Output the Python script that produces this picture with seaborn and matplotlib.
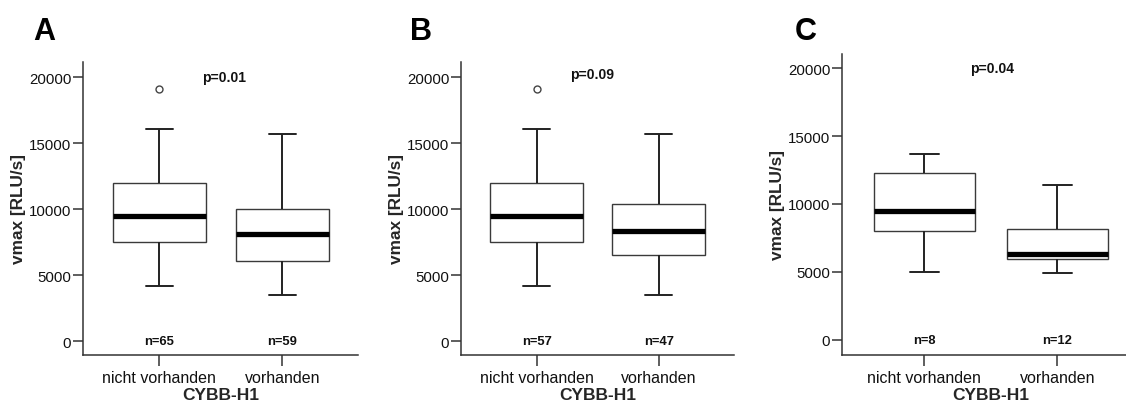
import numpy as np
import pandas as pd
import matplotlib
matplotlib.use("Agg")
import matplotlib.pyplot as plt
import seaborn as sns

# ---------------- data ----------------
categories = ["nicht vorhanden", "vorhanden"]
panel_letters = ["A", "B", "C"]
p_values = ["p=0.01", "p=0.09", "p=0.04"]
n_labels = [["n=65", "n=59"], ["n=57", "n=47"], ["n=8", "n=12"]]
y_ticks = [0, 5000, 10000, 15000, 20000]
x_label = "CYBB-H1"
y_label = "vmax [RLU/s]"

# five-number summaries: lower whisker, Q1, median, Q3, upper whisker
A_nicht = [4160, 7500, 9480, 11990, 16050]
A_vorh = [3500, 6060, 8080, 9970, 15700]
B_nicht = [4160, 7500, 9470, 11990, 16040]
B_vorh = [3500, 6510, 8300, 10370, 15700]
C_nicht = [5010, 8010, 9490, 12310, 13710]
C_vorh = [4940, 5925, 6340, 8180, 11380]
# outliers
A_nicht_out = [19080]
B_nicht_out = [19080]
no_out = []

panels = [
    (A_nicht, A_nicht_out, A_vorh, no_out),
    (B_nicht, B_nicht_out, B_vorh, no_out),
    (C_nicht, no_out, C_vorh, no_out),
]


def sample_from_summary(stats, outliers):
    lo, q1, med, q3, hi = stats
    # values whose quartiles reproduce the summary exactly
    return [lo, q1, q1, med, med, q3, q3, hi] + list(outliers)


# ---------------- style ----------------
sns.set_theme(style="ticks")
plt.rcParams["font.family"] = ["Liberation Sans", "DejaVu Sans"]
plt.rcParams["axes.edgecolor"] = "#333333"
plt.rcParams["xtick.color"] = "#333333"
plt.rcParams["ytick.color"] = "#333333"
plt.rcParams["xtick.labelcolor"] = "#111111"
plt.rcParams["ytick.labelcolor"] = "#111111"

W, H = 1126, 406
fig = plt.figure(figsize=(W / 100, H / 100), dpi=100)

# axes rectangles in pixels: left, top, right, bottom
rects = [(83, 63, 358, 356), (461, 63, 734, 356), (842, 55, 1139, 356)]
ylims = [(-1060, 21140), (-1060, 21140), (-1130, 21055)]
letter_x = [33, 410, 795]
p_x = [0.53, 0.45, 0.51]
p_y = [20000, 20200, 20000]

for i, (g1, o1, g2, o2) in enumerate(panels):
    l, t, r, b = rects[i]
    ax = fig.add_axes([l / W, (H - b) / H, (r - l) / W, (b - t) / H])
    s1 = sample_from_summary(g1, o1)
    s2 = sample_from_summary(g2, o2)
    df = pd.DataFrame({
        "group": [categories[0]] * len(s1) + [categories[1]] * len(s2),
        "vmax": s1 + s2,
    })
    sns.boxplot(
        data=df, x="group", y="vmax", order=categories, ax=ax,
        width=0.76, color="white", linecolor="#333333", linewidth=1.0,
        whis=1.5, capwidths=0.22,
        boxprops=dict(facecolor="white", edgecolor="#3a3a3a", linewidth=1.0),
        medianprops=dict(color="black", linewidth=3.8, solid_capstyle="butt"),
        whiskerprops=dict(color="#222222", linewidth=1.4),
        capprops=dict(color="#222222", linewidth=1.4),
        flierprops=dict(marker="o", markersize=5, markerfacecolor="white",
                        markeredgecolor="#444444", markeredgewidth=1.0),
    )
    ax.set_xlim(-0.62, 1.615)
    ax.set_ylim(*ylims[i])
    ax.set_yticks(y_ticks)
    ax.set_yticklabels([str(v) for v in y_ticks], fontsize=10.8)
    ax.set_xticks([0, 1])
    ax.set_xticklabels(categories, fontsize=11.5)
    ax.tick_params(axis="y", length=7, width=1.1, pad=1.5)
    ax.tick_params(axis="x", length=8, width=1.1, pad=3)
    sns.despine(ax=ax)
    for s in ("left", "bottom"):
        ax.spines[s].set_linewidth(1.1)
    ax.set_xlabel(x_label, fontsize=12.5, fontweight="bold", labelpad=1)
    ax.set_ylabel(y_label, fontsize=12.4, fontweight="bold", labelpad=2)
    ax.text(p_x[i], p_y[i], p_values[i], fontsize=10, fontweight="bold",
            ha="center", va="center", color="#111111")
    for j in range(2):
        ax.text(j, 0, n_labels[i][j], fontsize=9.4, fontweight="bold",
                ha="center", va="center", color="#111111")
    fig.text(letter_x[i] / W, (H - 40) / H, panel_letters[i], fontsize=22,
             fontweight="bold", ha="left", va="baseline", color="black")

fig.savefig("out.png", dpi=100)
